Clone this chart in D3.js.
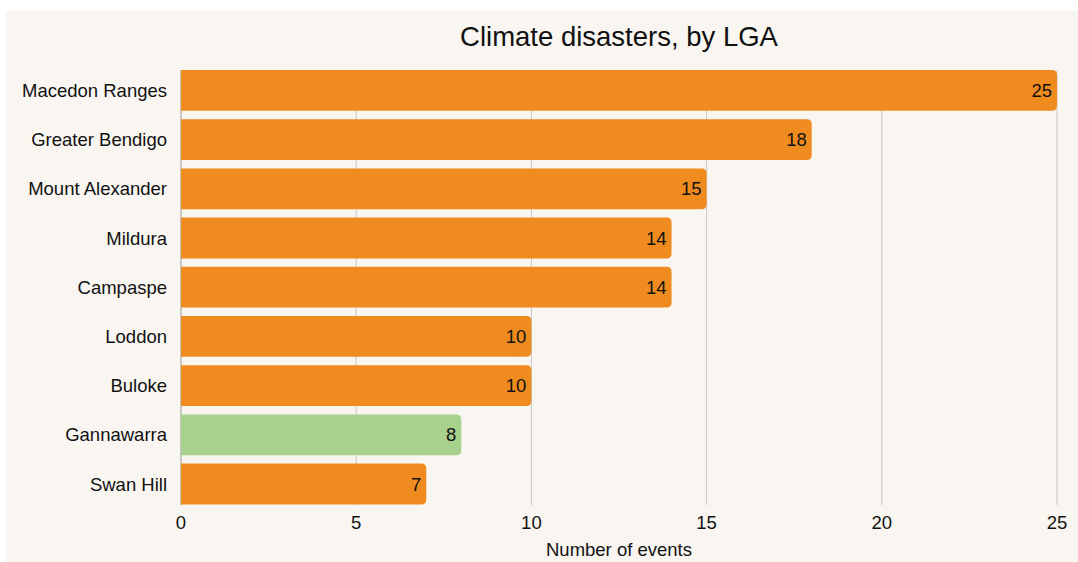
<!DOCTYPE html>
<html>
<head>
<meta charset="utf-8">
<script src="https://cdn.jsdelivr.net/npm/d3@7"></script>
<style>
  body { margin: 0; background: #ffffff; }
  text { font-family: "Liberation Sans", Arial, Helvetica, sans-serif; fill: #111; }
</style>
</head>
<body>
<div id="chart"></div>
<script>
// data
var lgas = ['Macedon Ranges', 'Greater Bendigo', 'Mount Alexander', 'Mildura', 'Campaspe', 'Loddon', 'Buloke', 'Gannawarra', 'Swan Hill'];
var events = [25, 18, 15, 14, 14, 10, 10, 8, 7];
var highlight = ['Gannawarra'];
var xTicks = [0, 5, 10, 15, 20, 25];

var width = 1078;
var height = 562;

var svg = d3.select('#chart')
    .append('svg')
    .attr('width', width)
    .attr('height', height);

// cream panel
svg.append('rect')
    .attr('x', 6)
    .attr('y', 11)
    .attr('width', width - 6)
    .attr('height', height - 11)
    .style('fill', '#f9f6f1');

var x = d3.scaleLinear()
    .domain([0, 25])
    .range([181, 1057]);

var y = d3.scaleBand()
    .domain(lgas)
    .range([65.8, 508.6])
    .paddingInner(0.17)
    .paddingOuter(0.085);

// gridlines
svg.append('g')
    .selectAll('line')
    .data(xTicks)
    .enter()
    .append('line')
    .attr('x1', d => x(d))
    .attr('x2', d => x(d))
    .attr('y1', 70)
    .attr('y2', 505)
    .style('stroke', d => d === 0 ? '#999' : '#c8c6c2')
    .style('stroke-width', 1);

// bars with rounded right end
function barPath(d, i) {
    var x0 = x(0), x1 = x(events[i]);
    var y0 = y(d), h = y.bandwidth(), r = 5;
    return 'M' + x0 + ',' + y0 +
        'H' + (x1 - r) +
        'Q' + x1 + ',' + y0 + ' ' + x1 + ',' + (y0 + r) +
        'V' + (y0 + h - r) +
        'Q' + x1 + ',' + (y0 + h) + ' ' + (x1 - r) + ',' + (y0 + h) +
        'H' + x0 + 'Z';
}

svg.append('g')
    .selectAll('path')
    .data(lgas)
    .enter()
    .append('path')
    .attr('d', barPath)
    .style('fill', d => highlight.indexOf(d) > -1 ? '#a9d18e' : '#f08c1f');

// value labels
svg.append('g')
    .selectAll('text')
    .data(lgas)
    .enter()
    .append('text')
    .attr('x', (d, i) => x(events[i]) - 5)
    .attr('y', d => y(d) + y.bandwidth() / 2)
    .attr('text-anchor', 'end')
    .attr('dominant-baseline', 'central')
    .style('font-size', '18.5px')
    .text((d, i) => events[i]);

// category labels
svg.append('g')
    .selectAll('text')
    .data(lgas)
    .enter()
    .append('text')
    .attr('x', 167)
    .attr('y', d => y(d) + y.bandwidth() / 2)
    .attr('text-anchor', 'end')
    .attr('dominant-baseline', 'central')
    .style('font-size', '18.5px')
    .text(d => d);

// x tick labels
svg.append('g')
    .selectAll('text')
    .data(xTicks)
    .enter()
    .append('text')
    .attr('x', d => x(d))
    .attr('y', 522)
    .attr('text-anchor', 'middle')
    .attr('dominant-baseline', 'central')
    .style('font-size', '18.5px')
    .text(d => d);

// axis title
svg.append('text')
    .attr('x', (x(0) + x(25)) / 2)
    .attr('y', 556)
    .attr('text-anchor', 'middle')
    .style('font-size', '18.5px')
    .text('Number of events');

// title
svg.append('text')
    .attr('x', (x(0) + x(25)) / 2)
    .attr('y', 46)
    .attr('text-anchor', 'middle')
    .style('font-size', '27.5px')
    .text('Climate disasters, by LGA');
</script>
</body>
</html>
